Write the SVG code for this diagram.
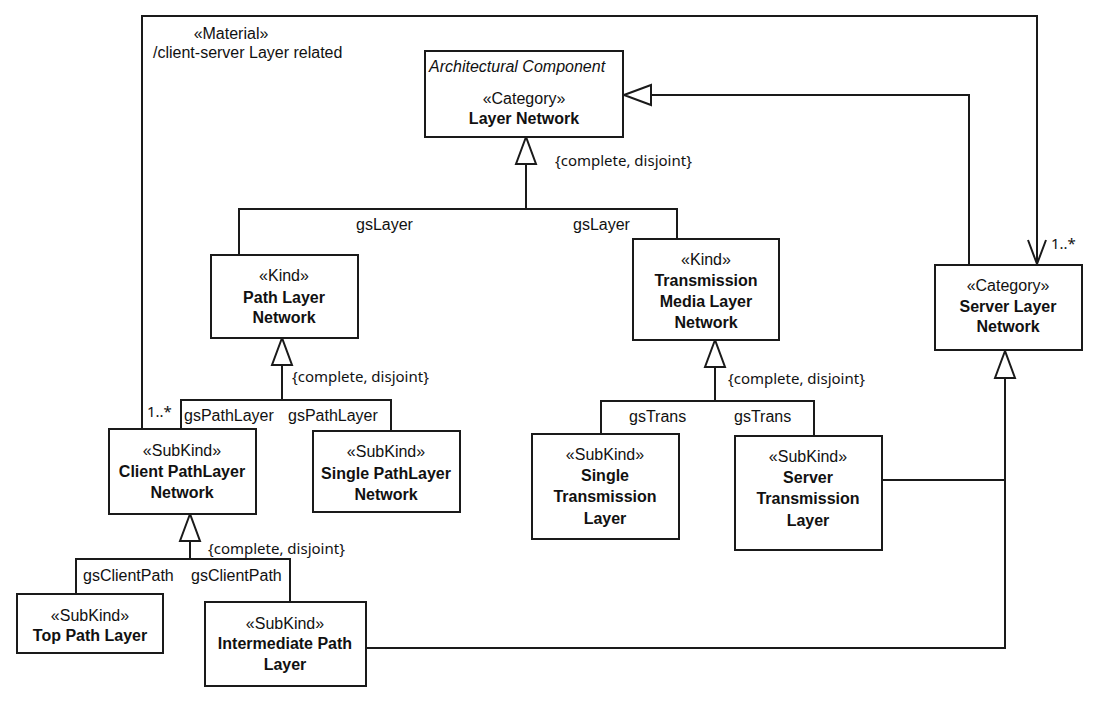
<svg xmlns="http://www.w3.org/2000/svg" width="1100" height="704" viewBox="0 0 1100 704">
<defs>
<style>
.box{fill:#fff;stroke:#1a1a1a;stroke-width:2}
.ln{fill:none;stroke:#1a1a1a;stroke-width:2}
.tri{fill:#fff;stroke:#1a1a1a;stroke-width:2;stroke-linejoin:miter}
.t{font-family:"Liberation Sans",Arial,sans-serif;font-size:16px;fill:#111;text-anchor:middle}
.b{font-weight:bold}
.i{font-style:italic;text-anchor:start}
.l{font-family:"Liberation Sans",Arial,sans-serif;font-size:16px;fill:#111}
.c{font-family:"Noto Sans","Open Sans",sans-serif;font-size:15px;fill:#111}
</style>
</defs>
<rect width="1100" height="704" fill="#fff"/>
<g id="connectors">
<!-- association material -->
<polyline class="ln" points="142,429 142,16 1037,16 1037,264"/>
<polyline class="ln" points="1028,240 1037,264 1046,240"/>
<text class="l" x="231" y="39" text-anchor="middle">«Material»</text>
<text class="l" x="153" y="58">/client-server Layer related</text>
<text class="c" x="147" y="417">1..*</text>
<text class="c" x="1051" y="249">1..*</text>
<!-- Server Layer Network -> Layer Network -->
<polyline class="ln" points="969,265 969,95 651,95"/>
<polygon class="tri" points="624,95 651,85 651,105"/>
<!-- Layer Network generalization set -->
<polyline class="ln" points="526,164 526,209"/>
<polyline class="ln" points="239,255 239,209 677,209 677,239"/>
<polygon class="tri" points="526,137 516,164 536,164"/>
<text class="c" x="555" y="166">{complete, disjoint}</text>
<text class="l" x="356" y="229.5">gsLayer</text>
<text class="l" x="573" y="229.5">gsLayer</text>
<!-- Path Layer generalization set -->
<polyline class="ln" points="282,365 282,400"/>
<polyline class="ln" points="181,429 181,400 391,400 391,431"/>
<polygon class="tri" points="282,338 272,365 292,365"/>
<text class="c" x="292" y="382">{complete, disjoint}</text>
<text class="l" x="184" y="420.5">gsPathLayer</text>
<text class="l" x="288" y="420.5">gsPathLayer</text>
<!-- Client PathLayer generalization set -->
<polyline class="ln" points="190,541 190,559"/>
<polyline class="ln" points="76,594 76,559 290,559 290,602"/>
<polygon class="tri" points="190,514 180,541 200,541"/>
<text class="c" x="208" y="554">{complete, disjoint}</text>
<text class="l" x="83" y="580.5">gsClientPath</text>
<text class="l" x="191" y="580.5">gsClientPath</text>
<!-- Transmission generalization set -->
<polyline class="ln" points="715,367 715,401"/>
<polyline class="ln" points="601,434 601,401 814,401 814,436"/>
<polygon class="tri" points="715,340 705,367 725,367"/>
<text class="c" x="728" y="384">{complete, disjoint}</text>
<text class="l" x="629" y="422">gsTrans</text>
<text class="l" x="734" y="422">gsTrans</text>
<!-- Server Layer Network generalization -->
<polyline class="ln" points="366,648 1005,648 1005,378"/>
<polyline class="ln" points="882,480 1005,480"/>
<polygon class="tri" points="1005,351 995,378 1015,378"/>
</g>
<g id="layer-network">
<rect class="box" x="425" y="51" width="198" height="86"/>
<text class="t i" x="429" y="72">Architectural Component</text>
<text class="t" x="524" y="104">«Category»</text>
<text class="t b" x="524" y="124">Layer Network</text>
</g>
<g id="path-layer-network">
<rect class="box" x="211" y="255" width="147" height="83"/>
<text class="t" x="284" y="281">«Kind»</text>
<text class="t b" x="284" y="302.5">Path Layer</text>
<text class="t b" x="284" y="323">Network</text>
</g>
<g id="transmission-media-layer-network">
<rect class="box" x="633" y="239" width="146" height="101"/>
<text class="t" x="706" y="264.5">«Kind»</text>
<text class="t b" x="706" y="285.5">Transmission</text>
<text class="t b" x="706" y="306.5">Media Layer</text>
<text class="t b" x="706" y="327.5">Network</text>
</g>
<g id="server-layer-network">
<rect class="box" x="935" y="265" width="147" height="85"/>
<text class="t" x="1008" y="290.5">«Category»</text>
<text class="t b" x="1008" y="311.5">Server Layer</text>
<text class="t b" x="1008" y="332">Network</text>
</g>
<g id="client-pathlayer-network">
<rect class="box" x="109" y="429" width="147" height="85"/>
<text class="t" x="182" y="456">«SubKind»</text>
<text class="t b" x="182" y="476.5">Client PathLayer</text>
<text class="t b" x="182" y="497.5">Network</text>
</g>
<g id="single-pathlayer-network">
<rect class="box" x="313" y="431" width="147" height="81"/>
<text class="t" x="386" y="456.5">«SubKind»</text>
<text class="t b" x="386" y="478.5">Single PathLayer</text>
<text class="t b" x="386" y="499.5">Network</text>
</g>
<g id="single-transmission-layer">
<rect class="box" x="532" y="434" width="147" height="105"/>
<text class="t" x="605" y="459.5">«SubKind»</text>
<text class="t b" x="605" y="481">Single</text>
<text class="t b" x="605" y="502">Transmission</text>
<text class="t b" x="605" y="524">Layer</text>
</g>
<g id="server-transmission-layer">
<rect class="box" x="735" y="436" width="147" height="114"/>
<text class="t" x="808" y="461.5">«SubKind»</text>
<text class="t b" x="808" y="482.5">Server</text>
<text class="t b" x="808" y="503.5">Transmission</text>
<text class="t b" x="808" y="525.5">Layer</text>
</g>
<g id="top-path-layer">
<rect class="box" x="17" y="594" width="146" height="59"/>
<text class="t" x="90" y="621">«SubKind»</text>
<text class="t b" x="90" y="641">Top Path Layer</text>
</g>
<g id="intermediate-path-layer">
<rect class="box" x="205" y="602" width="161" height="84"/>
<text class="t" x="285" y="629">«SubKind»</text>
<text class="t b" x="285" y="649">Intermediate Path</text>
<text class="t b" x="285" y="670">Layer</text>
</g>
</svg>
